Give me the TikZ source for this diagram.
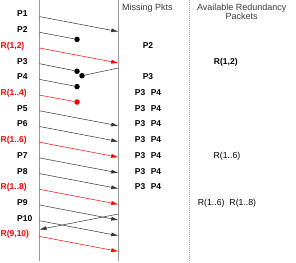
\documentclass[tikz,border=0pt]{standalone}
\usepackage{fontspec}
\setmainfont{Liberation Sans}
\usepackage{xcolor}
\usepackage{tikz}
\usetikzlibrary{arrows.meta, positioning}
\definecolor{redund}{HTML}{FF0000}
\definecolor{axisgray}{HTML}{999999}
\definecolor{headtext}{HTML}{3A3A3A}

\begin{document}
\begin{tikzpicture}[x=1pt, y=-1pt, >={Latex[length=7pt, width=4pt]}]
        \tikzstyle{pktlabel} = [anchor=base west, inner sep=0pt, font=\fontsize{8.5}{10}\selectfont\bfseries]
        \tikzstyle{redlabel} = [pktlabel, text=redund]
        \tikzstyle{listtext} = [anchor=base, inner sep=0pt, font=\fontsize{8.5}{10}\selectfont\bfseries]
        \tikzstyle{header} = [anchor=north, inner sep=0pt, align=center, text=headtext, font=\fontsize{9}{9.3}\selectfont]
        \tikzstyle{lossdot} = [circle, fill=black, inner sep=0pt, minimum size=5.5pt]
        \tikzstyle{timeline} = [draw, line width=0.9pt, color=axisgray]
        \tikzstyle{pktarrow} = [draw, line width=0.5pt, color=black!80]
        \tikzstyle{redarrow} = [draw, line width=0.5pt, color=redund]

        \path [fill=white, use as bounding box] (0,0) rectangle (296,262);

        % time lines of sender, receiver and the table divider
        \coordinate (sendtop) at (39.5,0);
        \coordinate (sendbot) at (39.5,261);
        \coordinate (recvtop) at (118.3,0);
        \coordinate (recvbot) at (118.3,261);
        \coordinate (divtop) at (189.5,0);
        \coordinate (divbot) at (189.5,261);
        \path [timeline] (sendtop) -- (sendbot);
        \path [timeline] (recvtop) -- (recvbot);
        \path [draw, line width=0.6pt, color=axisgray, dash pattern=on 1pt off 1pt] (divtop) -- (divbot);

        % headers
        \node [header] (missing) at (147.5,3.4) {Missing Pkts};
        \node [header] (avail) at (241.7,3.4) {Available Redundancy\\Packets};

        % sent packets
        \node [pktlabel] (p1) at (17,17.0) {P1};
        \node [pktlabel] (p2) at (17,32.7) {P2};
        \node [redlabel] (r12) at (0.5,48.4) {R(1,2)};
        \node [pktlabel] (p3) at (17,64.1) {P3};
        \node [pktlabel] (p4) at (17,79.8) {P4};
        \node [redlabel] (r14) at (0.5,95.5) {R(1..4)};
        \node [pktlabel] (p5) at (17,111.2) {P5};
        \node [pktlabel] (p6) at (17,126.9) {P6};
        \node [redlabel] (r16) at (0.5,142.6) {R(1..6)};
        \node [pktlabel] (p7) at (17,158.3) {P7};
        \node [pktlabel] (p8) at (17,174.0) {P8};
        \node [redlabel] (r18) at (0.5,189.7) {R(1..8)};
        \node [pktlabel] (p9) at (17,205.4) {P9};
        \node [pktlabel] (p10) at (17,221.1) {P10};
        \node [redlabel] (r910) at (0.5,236.8) {R(9,10)};

        \foreach \k in {0,...,14} {
            \coordinate (s\k) at (39.5,16.6+15.7*\k);
            \coordinate (e\k) at (118.3,31.6+15.7*\k);
        }

        % lost packets
        \node [lossdot] (d1) at (77,39.4) {};
        \node [lossdot] (d3) at (77,71.2) {};
        \node [lossdot] (dback) at (82,75.7) {};
        \node [lossdot] (d4) at (77,86.6) {};
        \node [lossdot, fill=redund] (d5) at (77,102.0) {};
        \coordinate (nack) at (118.3,68);
        \coordinate (retx) at (118.3,214);
        \coordinate (retxend) at (39.5,229.5);

        \path [draw, ->, pktarrow] (s0) -- (e0);
        \path [pktarrow] (s1) -- (d1);
        \path [draw, ->, redarrow] (s2) -- (e2);
        \path [pktarrow] (s3) -- (d3);
        \path [pktarrow] (nack) -- (dback);
        \path [pktarrow] (s4) -- (d4);
        \path [redarrow] (s5) -- (d5);
        \path [draw, ->, pktarrow] (s6) -- (e6);
        \path [draw, ->, pktarrow] (s7) -- (e7);
        \path [draw, ->, redarrow] (s8) -- (e8);
        \path [draw, ->, pktarrow] (s9) -- (e9);
        \path [draw, ->, pktarrow] (s10) -- (e10);
        \path [draw, ->, redarrow] (s11) -- (e11);
        \path [draw, ->, pktarrow] (s12) -- (e12);
        \path [draw, ->, pktarrow] (retx) -- (retxend);
        \path [draw, ->, pktarrow] (s13) -- (e13);
        \path [draw, ->, redarrow] (s14) -- (e14);

        % receiver state
        \node [listtext] (m2) at (148,48.4) {P2};
        \node [listtext] (m3) at (148,79.8) {P3};
        \node [listtext] (m5) at (148,95.5) {P3\hspace{5.5pt}P4};
        \node [listtext] (m6) at (148,111.2) {P3\hspace{5.5pt}P4};
        \node [listtext] (m7) at (148,126.9) {P3\hspace{5.5pt}P4};
        \node [listtext] (m8) at (148,142.6) {P3\hspace{5.5pt}P4};
        \node [listtext] (m9) at (148,158.3) {P3\hspace{5.5pt}P4};
        \node [listtext] (m10) at (148,174.0) {P3\hspace{5.5pt}P4};
        \node [listtext] (m11) at (148,189.7) {P3\hspace{5.5pt}P4};
        \node [listtext] (a3) at (225.8,64.1) {R(1,2)};
        \node [listtext, font=\fontsize{8.7}{10}\selectfont] (a9) at (227,158.3) {R(1..6)};
        \node [listtext, font=\fontsize{8.7}{10}\selectfont] (a12) at (227,205.4) {R(1..6)\hspace{5pt}R(1..8)};
    \end{tikzpicture}
\end{document}
